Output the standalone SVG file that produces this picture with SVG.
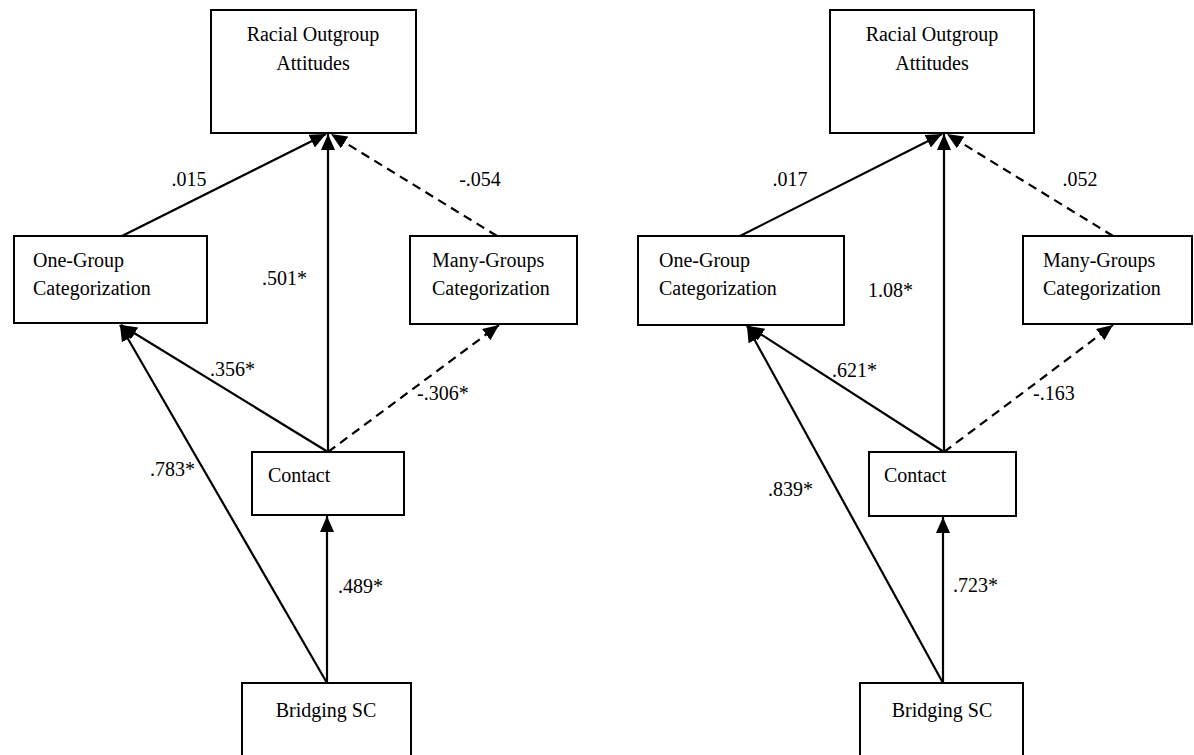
<svg xmlns="http://www.w3.org/2000/svg" width="1194" height="755" viewBox="0 0 1194 755">
  <style>
    .box { fill: #ffffff; stroke: #000000; stroke-width: 2; }
    .lbl { font-family: 'Liberation Serif', 'Times New Roman', Times, serif; font-size: 20px; fill: #000000; }
    .mid { text-anchor: middle; }
    .path { fill: none; stroke: #000000; stroke-width: 2.2; marker-end: url(#head); }
    .dash { stroke-dasharray: 9 6; }
  </style>
  <defs>
    <marker id="head" markerUnits="userSpaceOnUse" markerWidth="18" markerHeight="16" refX="16" refY="7" orient="auto">
      <path d="M0,0 L16,7 L0,14 z" fill="#000000"/>
    </marker>
  </defs>
  <rect width="1194" height="755" fill="#ffffff"/>

  <!-- path arrows -->
  <g id="connectors">
    <!-- model A -->
    <line class="path" x1="122" y1="236" x2="326" y2="134"/>
    <line class="path" x1="328" y1="452" x2="328" y2="134"/>
    <line class="path dash" x1="497" y1="236" x2="331" y2="134"/>
    <line class="path" x1="328" y1="452" x2="121" y2="325"/>
    <line class="path dash" x1="328" y1="452" x2="499" y2="325"/>
    <line class="path" x1="327" y1="683" x2="120" y2="325"/>
    <line class="path" x1="327" y1="683" x2="327" y2="516"/>
    <!-- model B -->
    <line class="path" x1="740" y1="236" x2="942" y2="134"/>
    <line class="path" x1="944" y1="452" x2="944" y2="134"/>
    <line class="path dash" x1="1113" y1="236" x2="947" y2="134"/>
    <line class="path" x1="944" y1="452" x2="748" y2="326"/>
    <line class="path dash" x1="944" y1="452" x2="1113" y2="325"/>
    <line class="path" x1="943" y1="683" x2="747" y2="326"/>
    <line class="path" x1="943" y1="683" x2="943" y2="517"/>
  </g>

  <!-- coefficients -->
  <g id="coefficients">
    <text class="lbl mid" x="189" y="186">.015</text>
    <text class="lbl mid" x="480" y="186">-.054</text>
    <text class="lbl" x="262" y="285">.501*</text>
    <text class="lbl" x="210" y="376">.356*</text>
    <text class="lbl" x="417" y="400">-.306*</text>
    <text class="lbl" x="150" y="476">.783*</text>
    <text class="lbl" x="338" y="593">.489*</text>

    <text class="lbl mid" x="790" y="186">.017</text>
    <text class="lbl mid" x="1080" y="186">.052</text>
    <text class="lbl" x="868" y="297">1.08*</text>
    <text class="lbl" x="832" y="377">.621*</text>
    <text class="lbl" x="1033" y="400">-.163</text>
    <text class="lbl" x="768" y="496">.839*</text>
    <text class="lbl" x="953" y="592">.723*</text>
  </g>

  <!-- model A nodes -->
  <g id="a-attitudes">
    <rect class="box" x="211" y="10" width="205" height="123"/>
    <text class="lbl mid" x="313" y="41">Racial Outgroup</text>
    <text class="lbl mid" x="313" y="70">Attitudes</text>
  </g>
  <g id="a-onegroup">
    <rect class="box" x="14" y="236" width="193" height="87"/>
    <text class="lbl" x="33" y="267">One-Group</text>
    <text class="lbl" x="33" y="295">Categorization</text>
  </g>
  <g id="a-manygroups">
    <rect class="box" x="410" y="236" width="167" height="88"/>
    <text class="lbl" x="432" y="267">Many-Groups</text>
    <text class="lbl" x="432" y="295">Categorization</text>
  </g>
  <g id="a-contact">
    <rect class="box" x="252" y="452" width="152" height="63"/>
    <text class="lbl" x="268" y="482">Contact</text>
  </g>
  <g id="a-bridging">
    <rect class="box" x="242" y="683" width="169" height="80"/>
    <text class="lbl mid" x="326" y="717">Bridging SC</text>
  </g>

  <!-- model B nodes -->
  <g id="b-attitudes">
    <rect class="box" x="830" y="10" width="204" height="123"/>
    <text class="lbl mid" x="932" y="41">Racial Outgroup</text>
    <text class="lbl mid" x="932" y="70">Attitudes</text>
  </g>
  <g id="b-onegroup">
    <rect class="box" x="638" y="236" width="206" height="89"/>
    <text class="lbl" x="659" y="267">One-Group</text>
    <text class="lbl" x="659" y="295">Categorization</text>
  </g>
  <g id="b-manygroups">
    <rect class="box" x="1023" y="236" width="169" height="88"/>
    <text class="lbl" x="1043" y="267">Many-Groups</text>
    <text class="lbl" x="1043" y="295">Categorization</text>
  </g>
  <g id="b-contact">
    <rect class="box" x="869" y="452" width="147" height="64"/>
    <text class="lbl" x="884" y="482">Contact</text>
  </g>
  <g id="b-bridging">
    <rect class="box" x="860" y="683" width="163" height="80"/>
    <text class="lbl mid" x="942" y="717">Bridging SC</text>
  </g>
</svg>
